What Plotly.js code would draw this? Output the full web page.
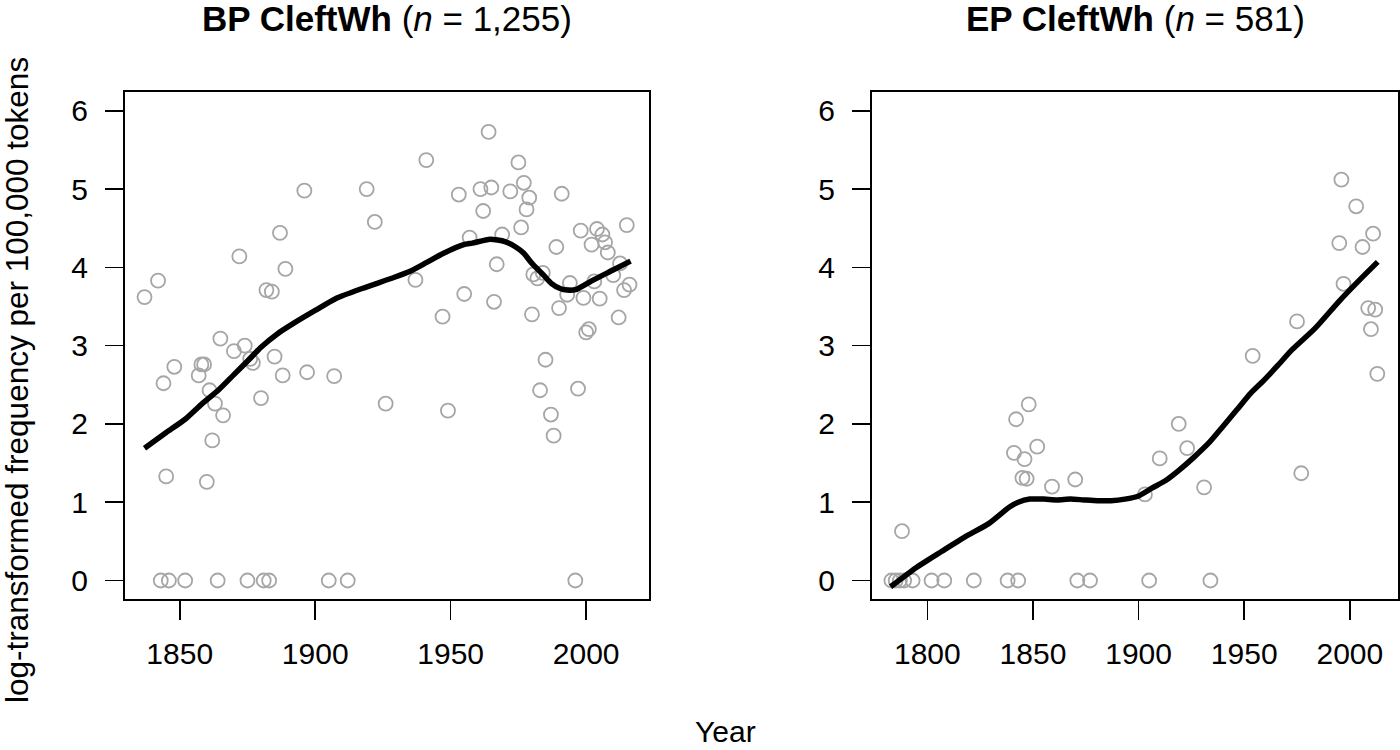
<!DOCTYPE html>
<html>
<head>
<meta charset="utf-8">
<script src="https://cdn.plot.ly/plotly-3.0.1.min.js"></script>
<style>html,body{margin:0;padding:0;background:#fff;}#chart{width:1400px;height:750px;}</style>
</head>
<body>
<div id="chart"></div>
<script>
// ---- BP CleftWh (left panel) ----
const bpYears = [1837,1842,1872,1887,1889,1882,1884,1896,1919,1922,1865,1874,1870,1848,1844,1858,1859,1857,1876,1877,1885,1861,1863,1866,1880,1888,1897,1907,1926,1862,1845,1860,
  1843,1846,1852,1864,1875,1881,1883,1905,1912,
  1964,1941,1975,1977,1953,1961,1965,1972,1979,1991,1962,1978,1976,2015,1957,1969,1998,2004,2006,2007,2002,2008,1989,1967,1937,1980.5,1982,1984,1994,2003,2010,2012.5,2016,2014,1993,1999,2005,1955,1966,1947,1980,1990,2012,2001,2000,1985,1983,1997,1987,1988,1949,1996];
const bpFreq = [3.62,3.83,4.14,4.44,3.98,3.71,3.69,4.98,5.00,4.58,3.09,3.00,2.93,2.73,2.52,2.76,2.76,2.62,2.83,2.78,2.86,2.43,2.26,2.11,2.33,2.62,2.66,2.61,2.26,1.79,1.33,1.26,
  0,0,0,0,0,0,0,0,0,
  5.73,5.37,5.34,5.08,4.93,5.00,5.02,4.97,4.89,4.94,4.72,4.74,4.51,4.54,4.38,4.42,4.47,4.49,4.42,4.32,4.29,4.19,4.26,4.04,3.84,3.91,3.86,3.93,3.80,3.82,3.90,4.05,3.78,3.71,3.65,3.61,3.60,3.66,3.56,3.37,3.40,3.48,3.36,3.21,3.17,2.82,2.43,2.45,2.12,1.85,2.17,0];
const bpSmoothYears = [1837,1845,1852,1858,1864.5,1870,1875.5,1880,1886,1892.7,1900,1907.5,1917.3,1929,1935,1941,1947.4,1954.8,1958,1964.6,1970,1974,1977,1980,1984.3,1987,1990.4,1993,1996.5,2002.7,2009,2016.4];
const bpSmoothFreq  = [1.69,1.89,2.06,2.25,2.44,2.63,2.82,2.98,3.15,3.30,3.45,3.60,3.73,3.87,3.95,4.06,4.18,4.29,4.31,4.36,4.33,4.26,4.18,4.05,3.90,3.80,3.73,3.71,3.72,3.84,3.95,4.08];

// ---- EP CleftWh (right panel) ----
const epYears = [1783,1785,1787,1789,1793,1802,1808,1822,1838,1843,1871,1877,1905,1934,
  1788,1842,1848,1841,1846,1852,1845,1847,1859,1870,1903,1910,1919,1923,1931,1954,1977,2013,2010,
  1996,2003,2011,1995,2006,1997,2008.7,2012,1975];
const epFreq = [0,0,0,0,0,0,0,0,0,0,0,0,0,0,
  0.63,2.06,2.25,1.63,1.55,1.71,1.31,1.30,1.20,1.29,1.10,1.56,2.00,1.69,1.19,2.87,1.37,2.64,3.21,
  5.12,4.78,4.43,4.31,4.26,3.79,3.48,3.46,3.31];
const epSmoothYears = [1782.6,1795,1806.7,1818,1829.2,1838.9,1843,1848.5,1855,1861.4,1867.8,1874,1880.6,1887,1893.5,1900,1906.3,1913,1919.2,1926,1933.7,1940,1946.5,1953,1959.4,1966,1972,1983.5,1995,2005,2013.2];
const epSmoothFreq  = [-0.08,0.17,0.37,0.56,0.73,0.94,1.00,1.04,1.04,1.03,1.04,1.03,1.02,1.02,1.04,1.08,1.18,1.28,1.41,1.57,1.77,1.97,2.18,2.39,2.56,2.75,2.93,3.22,3.57,3.85,4.07];

const yTicks = [0,1,2,3,4,5,6];
const bpXTicks = [1850,1900,1950,2000];
const epXTicks = [1800,1850,1900,1950,2000];

const FONT = "Liberation Sans, Arial, sans-serif";
const pointStyle = {symbol:'circle-open', size:14, color:'#a6a6a6', line:{width:1.8, color:'#a6a6a6'}};
const lineStyle = {color:'#000000', width:5.5, shape:'spline', smoothing:0.6};

const traces = [
  {x:bpYears, y:bpFreq, type:'scatter', mode:'markers', marker:pointStyle, xaxis:'x', yaxis:'y', hoverinfo:'x+y'},
  {x:bpSmoothYears, y:bpSmoothFreq, type:'scatter', mode:'lines', line:lineStyle, xaxis:'x', yaxis:'y'},
  {x:epYears, y:epFreq, type:'scatter', mode:'markers', marker:pointStyle, xaxis:'x2', yaxis:'y2', hoverinfo:'x+y'},
  {x:epSmoothYears, y:epSmoothFreq, type:'scatter', mode:'lines', line:lineStyle, xaxis:'x2', yaxis:'y2'}
];

function xAxis(domain, range, ticks){
  return {domain:domain, range:range, tickmode:'array', tickvals:ticks, ticktext:ticks.map(String),
    ticks:'outside', ticklen:19, tickwidth:1.6, tickcolor:'#000', showline:true, mirror:true,
    linecolor:'#000', linewidth:2, showgrid:false, zeroline:false,
    tickfont:{family:FONT, size:30, color:'#000'}, ticklabelstandoff:8, fixedrange:true};
}
function yAxis(domain, anchor){
  return {domain:domain, range:[-0.24,6.24], tickmode:'array', tickvals:yTicks, ticktext:yTicks.map(String),
    ticks:'outside', ticklen:18, tickwidth:1.6, tickcolor:'#000', showline:true, mirror:true,
    linecolor:'#000', linewidth:2, showgrid:false, zeroline:false, anchor:anchor,
    tickfont:{family:FONT, size:30, color:'#000'}, ticklabelstandoff:11, fixedrange:true};
}

const yDom = [1-599.3/750, 1-92/750];
const layout = {
  width:1400, height:750, margin:{l:0,r:0,t:0,b:0},
  paper_bgcolor:'#ffffff', plot_bgcolor:'#ffffff', showlegend:false,
  font:{family:FONT, color:'#000'},
  xaxis: Object.assign(xAxis([125/1400, 649/1400], [1829.8, 2023.2], bpXTicks), {anchor:'y'}),
  yaxis: yAxis(yDom, 'x'),
  xaxis2: Object.assign(xAxis([872/1400, 1398/1400], [1773.8, 2022.8], epXTicks), {anchor:'y2'}),
  yaxis2: yAxis(yDom, 'x2'),
  annotations:[
    {text:'<b>BP CleftWh</b> (<i>n</i> = 1,255)', xref:'paper', yref:'paper', x:387/1400, y:1-18/750,
     xanchor:'center', yanchor:'middle', showarrow:false, font:{family:FONT, size:35, color:'#000'}},
    {text:'<b>EP CleftWh</b> (<i>n</i> = 581)', xref:'paper', yref:'paper', x:1135/1400, y:1-18/750,
     xanchor:'center', yanchor:'middle', showarrow:false, font:{family:FONT, size:35, color:'#000'}},
    {text:'log-transformed frequency per 100,000 tokens', xref:'paper', yref:'paper', x:17/1400, y:1-380/750,
     xanchor:'center', yanchor:'middle', textangle:-90, showarrow:false, font:{family:FONT, size:31.5, color:'#000'}},
    {text:'Year', xref:'paper', yref:'paper', x:725/1400, y:0,
     xanchor:'center', yanchor:'bottom', showarrow:false, font:{family:FONT, size:30, color:'#000'}}
  ]
};

Plotly.newPlot('chart', traces, layout, {displayModeBar:false, staticPlot:true});
</script>
</body>
</html>
